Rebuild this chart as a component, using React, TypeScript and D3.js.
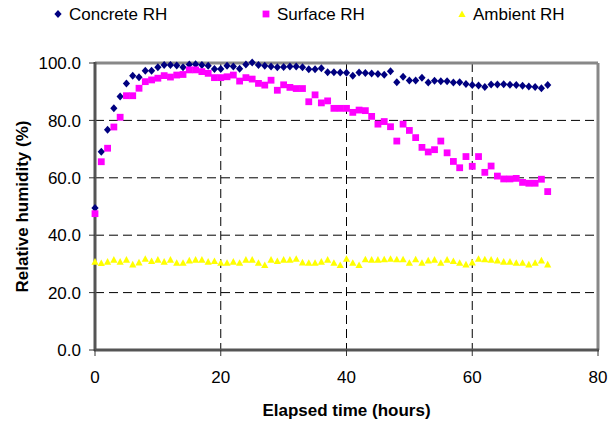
import React from "react";
import * as d3 from "d3";

const hours: number[] = Array.from({ length: 73 }, (_, i) => i);

const concreteRH: number[] = [
  49.5, 69.1, 76.7, 84.2, 88.3, 92.9, 95.6, 95.0, 97.3, 97.3,
  98.5, 99.3, 99.3, 99.1, 98.5, 99.5, 99.6, 99.3, 99.0, 97.9,
  97.9, 99.0, 98.8, 98.0, 99.5, 100.2, 99.3, 99.0, 98.8, 98.5,
  98.6, 98.8, 98.8, 98.5, 97.8, 97.8, 98.2, 96.8, 96.8, 96.7,
  96.6, 95.6, 96.7, 96.5, 96.3, 96.2, 95.9, 97.1, 93.3, 95.2,
  93.9, 93.9, 94.9, 93.2, 93.8, 93.6, 93.6, 93.2, 93.3, 92.7,
  92.3, 92.2, 91.6, 92.5, 92.5, 92.6, 92.4, 92.3, 92.1, 91.8,
  91.6, 91.2, 92.3,
];

const surfaceRH: number[] = [
  47.5, 65.6, 70.3, 77.7, 81.1, 88.6, 88.6, 91.2, 93.5, 94.1,
  94.7, 95.6, 95.1, 95.8, 96.0, 97.6, 97.6, 97.0, 96.4, 94.9,
  94.9, 95.2, 95.8, 93.7, 94.9, 94.4, 92.9, 92.3, 94.0, 90.5,
  92.4, 91.5, 91.1, 91.1, 86.5, 88.9, 86.1, 86.8, 84.2, 84.2,
  84.2, 82.8, 83.6, 83.4, 81.4, 78.7, 79.6, 77.8, 72.8, 78.7,
  76.5, 74.0, 70.6, 69.0, 69.8, 72.8, 68.7, 65.7, 63.5, 67.4,
  64.0, 67.4, 61.9, 64.1, 60.6, 59.6, 59.6, 59.8, 58.4, 58.1,
  58.1, 59.5, 55.2,
];

const ambientRH: number[] = [
  30.8, 30.3, 30.8, 31.5, 30.8, 31.5, 29.8, 30.5, 31.8, 31.0,
  31.5, 30.8, 31.5, 30.4, 30.4, 31.2, 31.5, 31.5, 30.8, 31.0,
  30.4, 30.4, 30.8, 30.4, 31.5, 31.5, 30.4, 29.6, 31.5, 31.0,
  31.5, 31.5, 31.8, 30.5, 30.4, 30.4, 30.8, 31.5, 30.4, 29.6,
  31.8, 30.4, 29.6, 31.6, 31.5, 31.5, 31.6, 31.8, 31.6, 31.6,
  30.4, 31.6, 30.4, 31.2, 31.5, 30.4, 31.5, 31.0, 30.4, 29.8,
  30.5, 31.8, 31.6, 31.5, 31.2, 30.8, 30.8, 30.4, 30.4, 29.8,
  30.4, 31.2, 29.8,
];

const xTicks: number[] = [0, 20, 40, 60, 80];
const yTicks: number[] = [0, 20, 40, 60, 80, 100];
const seriesNames: string[] = ["Concrete RH", "Surface RH", "Ambient RH"];
const seriesColors: string[] = ["#000080", "#FF00FF", "#FFFF00"];

const W = 608;
const H = 428;
const L = 95;
const R = 598;
const T = 63;
const B = 350;
const FONT = "'Liberation Sans', Arial, sans-serif";

const x = d3.scaleLinear().domain([0, 80]).range([L, R]);
const y = d3.scaleLinear().domain([0, 100]).range([B, T]);

function diamond(cx: number, cy: number, r = 4) {
  return `M${cx},${cy - r}L${cx + r * 0.9},${cy}L${cx},${cy + r}L${cx - r * 0.9},${cy}Z`;
}
function square(cx: number, cy: number, s = 3.4) {
  return `M${cx - s},${cy - s}H${cx + s}V${cy + s}H${cx - s}Z`;
}
function triangle(cx: number, cy: number, s = 3.6) {
  return `M${cx},${cy - s}L${cx + s},${cy + s * 0.85}L${cx - s},${cy + s * 0.85}Z`;
}

const shapes = [diamond, square, triangle];
const seriesData = [concreteRH, surfaceRH, ambientRH];

export default function App() {
  const legendX = [58, 266, 462];
  return (
    <svg
      width={W}
      height={H}
      style={{ position: "absolute", left: 0, top: 0, background: "#fff" }}
      fontFamily={FONT}
    >
      <rect x={0} y={0} width={W} height={H} fill="#fff" />
      {/* legend */}
      {seriesNames.map((n, i) => (
        <g key={n}>
          <path d={shapes[i](legendX[i], 14)} fill={seriesColors[i]} />
          <text x={legendX[i] + 11} y={20} fontSize={17} fill="#000">
            {n}
          </text>
        </g>
      ))}
      {/* gridlines */}
      {yTicks
        .filter((t) => t > 0 && t < 100)
        .map((t) => (
          <line
            key={"gy" + t}
            x1={L}
            x2={R}
            y1={y(t)}
            y2={y(t)}
            stroke="#000"
            strokeWidth={1}
            strokeDasharray="9,5"
          />
        ))}
      {xTicks
        .filter((t) => t > 0 && t < 80)
        .map((t) => (
          <line
            key={"gx" + t}
            x1={x(t)}
            x2={x(t)}
            y1={T}
            y2={B}
            stroke="#000"
            strokeWidth={1}
            strokeDasharray="9,5"
          />
        ))}
      {/* plot border */}
      <line x1={L} x2={R} y1={T} y2={T} stroke="#888" strokeWidth={3} />
      <line x1={R} x2={R} y1={T} y2={B} stroke="#888" strokeWidth={3} />
      {/* axes */}
      <line x1={L} x2={L} y1={T - 1} y2={B + 1} stroke="#555" strokeWidth={3} />
      <line x1={L - 1} x2={R + 1} y1={B} y2={B} stroke="#555" strokeWidth={3} />
      {yTicks.map((t) => (
        <g key={"yt" + t}>
          <line x1={L - 6} x2={L} y1={y(t)} y2={y(t)} stroke="#333" strokeWidth={1} />
          <text
            x={81}
            y={y(t)}
            dy="0.36em"
            textAnchor="end"
            fontSize={17}
            fill="#000"
          >
            {t.toFixed(1)}
          </text>
        </g>
      ))}
      {xTicks.map((t) => (
        <g key={"xt" + t}>
          <line x1={x(t)} x2={x(t)} y1={B} y2={B + 6} stroke="#333" strokeWidth={1} />
          <text
            x={x(t)}
            y={377}
            dy="0.36em"
            textAnchor="middle"
            fontSize={17}
            fill="#000"
          >
            {t}
          </text>
        </g>
      ))}
      {/* titles */}
      <text
        x={(L + R) / 2}
        y={410}
        dy="0.36em"
        textAnchor="middle"
        fontSize={17}
        fontWeight="bold"
        fill="#000"
      >
        Elapsed time (hours)
      </text>
      <text
        transform={`translate(22,${(T + B) / 2}) rotate(-90)`}
        textAnchor="middle"
        dy="0.36em"
        fontSize={17}
        fontWeight="bold"
        fill="#000"
      >
        Relative humidity (%)
      </text>
      {/* data */}
      {seriesData.map((vals, si) => (
        <g key={"s" + si} fill={seriesColors[si]}>
          {vals.map((v, i) => (
            <path key={i} d={shapes[si](x(hours[i]), y(v))} />
          ))}
        </g>
      ))}
    </svg>
  );
}
